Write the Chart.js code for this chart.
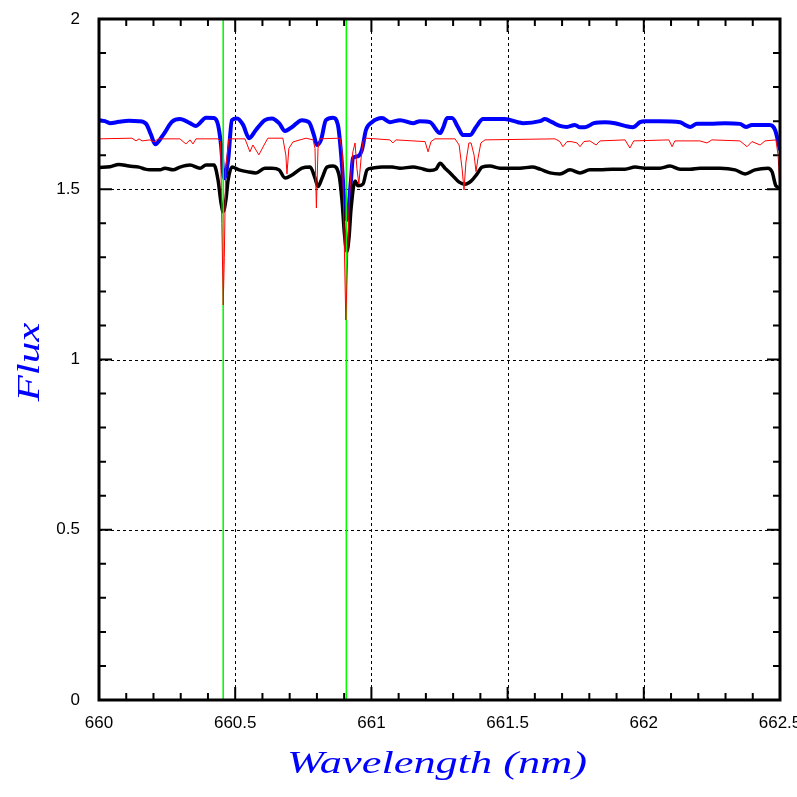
<!DOCTYPE html>
<html>
<head>
<meta charset="utf-8">
<script src="https://cdn.jsdelivr.net/npm/chart.js@4.4.1/dist/chart.umd.min.js"></script>
<style>
html, body { margin: 0; padding: 0; background: #fff; }
</style>
</head>
<body>
<canvas id="myChart" width="797" height="797"></canvas>
<script>
// axis ticks
let xTicks = [660, 660.5, 661, 661.5, 662, 662.5];
let yTicks = [0, 0.5, 1, 1.5, 2];

// marker lines (nm)
let markerWl = [660.456, 660.908];

// blue spectrum
let blueWl = [660.000, 660.022, 660.040, 660.073, 660.110, 660.147, 660.173, 660.191, 660.206, 660.235,
    660.268, 660.297, 660.334, 660.356, 660.393, 660.422, 660.437, 660.448, 660.459, 660.474,
    660.488, 660.507, 660.529, 660.551, 660.576, 660.609, 660.635, 660.661, 660.683, 660.709,
    660.745, 660.771, 660.789, 660.800, 660.815, 660.833, 660.859, 660.877, 660.892, 660.899,
    660.910, 660.925, 660.932, 660.947, 660.965, 660.980, 661.002, 661.039, 661.068, 661.105,
    661.153, 661.178, 661.215, 661.252, 661.263, 661.278, 661.296, 661.318, 661.336, 661.362,
    661.384, 661.410, 661.454, 661.490, 661.538, 661.557, 661.619, 661.637, 661.663, 661.692,
    661.718, 661.747, 661.766, 661.784, 661.817, 661.858, 661.894, 661.931, 661.960, 661.986,
    662.004, 662.059, 662.133, 662.151, 662.170, 662.195, 662.243, 662.298, 662.353, 662.375,
    662.397, 662.463, 662.482, 662.500];
let blueFlux = [1.703, 1.700, 1.694, 1.698, 1.701, 1.700, 1.692, 1.660, 1.632, 1.659,
    1.698, 1.706, 1.694, 1.686, 1.710, 1.709, 1.689, 1.630, 1.532, 1.586,
    1.703, 1.708, 1.689, 1.650, 1.674, 1.703, 1.708, 1.694, 1.671, 1.683,
    1.703, 1.697, 1.659, 1.630, 1.645, 1.703, 1.710, 1.689, 1.571, 1.483,
    1.410, 1.527, 1.592, 1.596, 1.615, 1.674, 1.697, 1.709, 1.697, 1.703,
    1.694, 1.700, 1.697, 1.665, 1.680, 1.709, 1.709, 1.682, 1.659, 1.659,
    1.683, 1.706, 1.706, 1.706, 1.697, 1.694, 1.700, 1.706, 1.697, 1.686,
    1.683, 1.689, 1.682, 1.682, 1.694, 1.697, 1.694, 1.686, 1.682, 1.697,
    1.700, 1.700, 1.697, 1.689, 1.683, 1.692, 1.692, 1.694, 1.692, 1.683,
    1.689, 1.689, 1.674, 1.615];

// red spectrum (high resolution)
let redWl = [660.000, 660.121, 660.136, 660.147, 660.158, 660.187, 660.202, 660.217, 660.297, 660.319,
    660.334, 660.345, 660.356, 660.437, 660.446, 660.451, 660.456, 660.460, 660.465, 660.477,
    660.536, 660.554, 660.565, 660.587, 660.606, 660.620, 660.675, 660.686, 660.690, 660.697,
    660.712, 660.738, 660.760, 660.786, 660.793, 660.798, 660.804, 660.811, 660.885, 660.894,
    660.899, 660.906, 660.911, 660.918, 660.925, 660.932, 660.940, 660.947, 660.954, 660.962,
    660.969, 660.980, 661.068, 661.079, 661.090, 661.153, 661.197, 661.208, 661.219, 661.233,
    661.307, 661.322, 661.333, 661.340, 661.347, 661.358, 661.366, 661.377, 661.384, 661.391,
    661.402, 661.417, 661.674, 661.692, 661.703, 661.718, 661.733, 661.755, 661.766, 661.780,
    661.802, 661.825, 661.839, 661.931, 661.949, 661.963, 662.092, 662.104, 662.114, 662.206,
    662.232, 662.250, 662.353, 662.379, 662.397, 662.427, 662.445, 662.485, 662.493, 662.500];
let redFlux = [1.648, 1.650, 1.642, 1.648, 1.642, 1.645, 1.639, 1.648, 1.648, 1.633,
    1.645, 1.633, 1.648, 1.648, 1.640, 1.400, 1.160, 1.300, 1.560, 1.648,
    1.648, 1.610, 1.630, 1.601, 1.630, 1.650, 1.650, 1.600, 1.545, 1.620,
    1.639, 1.645, 1.650, 1.645, 1.620, 1.445, 1.620, 1.648, 1.650, 1.600,
    1.400, 1.116, 1.250, 1.450, 1.550, 1.610, 1.636, 1.560, 1.515, 1.590,
    1.640, 1.650, 1.645, 1.636, 1.645, 1.642, 1.640, 1.610, 1.640, 1.648,
    1.648, 1.630, 1.560, 1.498, 1.580, 1.636, 1.636, 1.600, 1.552, 1.590,
    1.636, 1.645, 1.648, 1.640, 1.625, 1.640, 1.640, 1.636, 1.625, 1.640,
    1.642, 1.630, 1.642, 1.645, 1.621, 1.642, 1.645, 1.625, 1.642, 1.642,
    1.636, 1.645, 1.642, 1.625, 1.640, 1.630, 1.642, 1.645, 1.600, 1.498];

// black spectrum
let blackWl = [660.000, 660.040, 660.073, 660.110, 660.147, 660.169, 660.187, 660.224, 660.242, 660.272,
    660.297, 660.334, 660.371, 660.393, 660.422, 660.437, 660.448, 660.456, 660.466, 660.474,
    660.488, 660.514, 660.547, 660.576, 660.609, 660.635, 660.661, 660.683, 660.709, 660.745,
    660.775, 660.793, 660.804, 660.819, 660.837, 660.859, 660.881, 660.892, 660.901, 660.910,
    660.918, 660.925, 660.940, 660.951, 660.969, 660.984, 661.002, 661.039, 661.076, 661.105,
    661.153, 661.178, 661.215, 661.237, 661.252, 661.270, 661.296, 661.322, 661.344, 661.366,
    661.388, 661.406, 661.435, 661.472, 661.509, 661.545, 661.590, 661.619, 661.656, 661.692,
    661.729, 661.766, 661.802, 661.839, 661.883, 661.931, 661.968, 662.004, 662.059, 662.096,
    662.133, 662.170, 662.206, 662.280, 662.335, 662.372, 662.408, 662.456, 662.471, 662.485,
    662.500];
let blackFlux = [1.564, 1.566, 1.573, 1.568, 1.565, 1.559, 1.557, 1.557, 1.562, 1.557,
    1.565, 1.571, 1.562, 1.571, 1.571, 1.527, 1.460, 1.434, 1.470, 1.527,
    1.565, 1.557, 1.551, 1.548, 1.562, 1.562, 1.557, 1.533, 1.542, 1.562,
    1.565, 1.533, 1.508, 1.533, 1.565, 1.568, 1.542, 1.468, 1.370, 1.317,
    1.360, 1.440, 1.524, 1.510, 1.515, 1.557, 1.562, 1.565, 1.565, 1.562,
    1.565, 1.562, 1.555, 1.559, 1.576, 1.562, 1.542, 1.521, 1.515, 1.524,
    1.545, 1.565, 1.568, 1.562, 1.562, 1.562, 1.565, 1.559, 1.548, 1.545,
    1.557, 1.548, 1.557, 1.557, 1.559, 1.559, 1.565, 1.562, 1.562, 1.568,
    1.559, 1.559, 1.562, 1.562, 1.557, 1.545, 1.557, 1.562, 1.551, 1.510,
    1.504];

function pairs(xs, ys) {
    return xs.map((v, i) => ({x: v, y: ys[i]}));
}

// first dataset ends up on top
let datasets = [];
datasets.push({data: pairs(redWl, redFlux), borderColor: '#ff0000', borderWidth: 1});
markerWl.forEach(w => {
    datasets.push({
        data: [{x: w, y: 0}, {x: w, y: 2}],
        borderColor: '#00ff00',
        borderWidth: 1.6
    });
});
datasets.push({data: pairs(blackWl, blackFlux), borderColor: '#000000', borderWidth: 3.5, cubicInterpolationMode: 'monotone'});
datasets.push({data: pairs(blueWl, blueFlux), borderColor: '#0000ff', borderWidth: 4, cubicInterpolationMode: 'monotone'});

// minor ticks, dashed grid, frame and axis titles
let framePlugin = {
    id: 'framePlugin',
    beforeDatasetsDraw(chart) {
        let {ctx, chartArea: a, scales: {x, y}} = chart;
        ctx.save();
        ctx.strokeStyle = '#000';
        ctx.lineWidth = 1;
        ctx.setLineDash([3, 3]);
        xTicks.slice(1, -1).forEach(v => {
            let px = Math.round(x.getPixelForValue(v)) + 0.5;
            ctx.beginPath(); ctx.moveTo(px, a.bottom); ctx.lineTo(px, a.top); ctx.stroke();
        });
        yTicks.slice(1, -1).forEach(v => {
            let py = Math.round(y.getPixelForValue(v)) + 0.5;
            ctx.beginPath(); ctx.moveTo(a.left, py); ctx.lineTo(a.right, py); ctx.stroke();
        });
        ctx.setLineDash([]);
        ctx.lineWidth = 2;
        for (let i = 0; i <= 25; i++) {
            let v = 660 + i * 0.1;
            let len = (i % 5 === 0) ? 13 : 7;
            let px = x.getPixelForValue(v);
            ctx.beginPath();
            ctx.moveTo(px, a.bottom); ctx.lineTo(px, a.bottom - len);
            ctx.moveTo(px, a.top); ctx.lineTo(px, a.top + len);
            ctx.stroke();
        }
        for (let i = 0; i <= 20; i++) {
            let v = i * 0.1;
            let len = (i % 5 === 0) ? 13 : 7;
            let py = y.getPixelForValue(v);
            ctx.beginPath();
            ctx.moveTo(a.left, py); ctx.lineTo(a.left + len, py);
            ctx.moveTo(a.right, py); ctx.lineTo(a.right - len, py);
            ctx.stroke();
        }
        ctx.restore();
    },
    afterDatasetsDraw(chart) {
        let {ctx, chartArea: a} = chart;
        ctx.save();
        ctx.strokeStyle = '#000';
        ctx.lineWidth = 3;
        ctx.strokeRect(a.left, a.top, a.right - a.left, a.bottom - a.top);
        ctx.restore();
    },
    afterDraw(chart) {
        let ctx = chart.ctx;
        ctx.save();
        ctx.fillStyle = '#0000ff';
        ctx.font = 'italic 31px "Liberation Serif"';
        ctx.textAlign = 'center';
        ctx.textBaseline = 'alphabetic';
        let t = 'Wavelength (nm)';
        let w = ctx.measureText(t).width;
        ctx.translate(437, 773);
        ctx.scale(300 / w, 1);
        ctx.fillText(t, 0, 0);
        ctx.restore();

        ctx.save();
        ctx.fillStyle = '#0000ff';
        ctx.font = 'italic 31px "Liberation Serif"';
        ctx.textAlign = 'center';
        ctx.textBaseline = 'alphabetic';
        let t2 = 'Flux';
        let w2 = ctx.measureText(t2).width;
        ctx.translate(39, 362);
        ctx.rotate(-Math.PI / 2);
        ctx.scale(79 / w2, 1);
        ctx.fillText(t2, 0, 0);
        ctx.restore();
    }
};

let context = document.getElementById('myChart');
let myChart = new Chart(context, {
    type: 'line',
    data: {datasets: datasets},
    options: {
        responsive: false,
        animation: false,
        devicePixelRatio: 1,
        layout: {padding: {left: 0, top: 19, right: 17, bottom: 0}},
        elements: {point: {radius: 0}, line: {tension: 0}},
        plugins: {legend: {display: false}, tooltip: {enabled: false}},
        scales: {
            x: {
                type: 'linear',
                min: 660,
                max: 662.5,
                afterFit: s => { s.height = 97; s.paddingLeft = 0; s.paddingRight = 0; },
                afterBuildTicks: s => { s.ticks = xTicks.map(v => ({value: v})); },
                grid: {display: false},
                border: {display: false},
                ticks: {
                    color: '#000',
                    font: {family: '"Liberation Sans"', size: 17},
                    padding: 5,
                    maxRotation: 0,
                    autoSkip: false,
                    callback: v => String(v)
                }
            },
            y: {
                type: 'linear',
                min: 0,
                max: 2,
                afterFit: s => { s.width = 99; s.paddingTop = 0; s.paddingBottom = 0; },
                afterBuildTicks: s => { s.ticks = yTicks.map(v => ({value: v})); },
                grid: {display: false},
                border: {display: false},
                ticks: {
                    color: '#000',
                    font: {family: '"Liberation Sans"', size: 17},
                    padding: 11,
                    callback: v => String(v)
                }
            }
        }
    },
    plugins: [framePlugin]
});
</script>
</body>
</html>
